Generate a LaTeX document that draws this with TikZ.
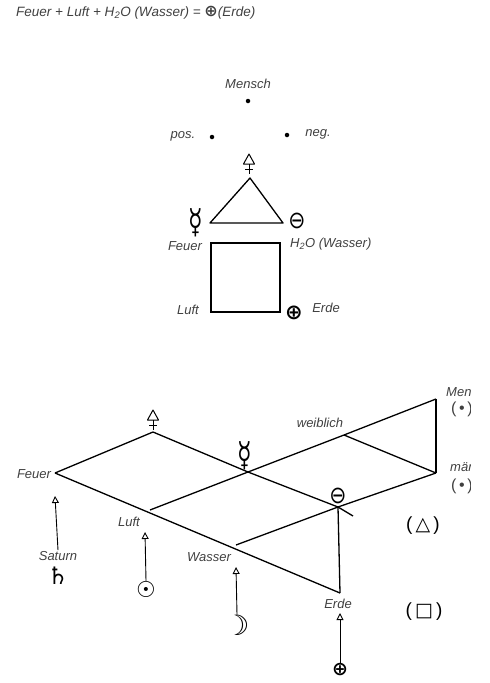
\documentclass[tikz,border=0pt]{standalone}
\usepackage{fontspec}
\setmainfont{Liberation Sans}
\newfontfamily\symfont{DejaVu Sans}
\usetikzlibrary{arrows.meta, positioning}

\tikzset{
  sulfur/.pic={
    \draw[line width=1pt, line join=round] (-5.5,-1) -- (5.5,-1) -- (0,-11) -- cycle;
    \draw[line width=1pt] (0,-1) -- (0,9) (-4,4) -- (4,4);
  }
}
\newcommand{\mercsym}{\scalebox{0.7}[1]{\fontsize{34}{36}\selectfont ☿}}
\newcommand{\saltsym}{\scalebox{0.85}[1]{\fontsize{24}{26}\selectfont ⊖}}

\begin{document}
\begin{tikzpicture}[x=1pt, y=-1pt,
    lbl/.style={font=\itshape\fontsize{13}{15}\selectfont, text=black!75, inner sep=1pt},
    sym/.style={font=\symfont, inner sep=0pt},
    dot/.style={circle, fill, inner sep=0pt, minimum size=4.5pt},
    ln/.style={line width=1.3pt},
    arr/.style={-{Triangle[open, length=7pt, width=7pt]}, line width=0.9pt}
]
\clip (0,0) rectangle (490,683);
\useasboundingbox (0,0) rectangle (490,683);

% formula
\node[lbl, anchor=west, font=\itshape\fontsize{13.5}{15}\selectfont] (formula) at (15,13) {Feuer + Luft + H\textsubscript{2}O (Wasser) = {\symfont\bfseries\fontsize{16}{16}\selectfont ⊕}(Erde)};

% upper figure: Mensch, triangle, square
\node[lbl] (mensch) at (248,84) {Mensch};
\node[dot] (mdot) at (248,101) {};
\node[dot] (pdot) at (212,137) {};
\node[dot] (ndot) at (287,135) {};
\node[lbl] (pos) at (183,136) {pos.};
\node[lbl] (neg) at (318,134) {neg.};
\pic at (249,165) {sulfur};

\coordinate (ta) at (250,178);
\coordinate (tl) at (210,223);
\coordinate (tr) at (283,223);
\draw[ln, line join=round] (ta) -- (tl) -- (tr) -- cycle;
\node[sym] (merc) at (196,223) {\mercsym};
\node[sym] (salt) at (297,221) {\saltsym};

\coordinate (sqa) at (211,243);
\coordinate (sqc) at (280,312);
\draw[ln] (sqa) rectangle (sqc);
\node[lbl] (feuer) at (185,246) {Feuer};
\node[lbl, anchor=west] (wasser) at (289,244) {H\textsubscript{2}O (Wasser)};
\node[lbl] (luft) at (188,310) {Luft};
\node[sym, font=\symfont\bfseries\fontsize{21}{23}\selectfont] (earth) at (294,313) {⊕};
\node[lbl] (erde) at (326,308) {Erde};

% lower figure
\coordinate (F) at (55,473);
\coordinate (S) at (153,432);
\coordinate (M) at (248,472);
\coordinate (W) at (344,435);
\coordinate (Me) at (436,399);
\coordinate (Ma) at (436,473);
\coordinate (Sa) at (338,507);
\coordinate (SaEnd) at (353,516);
\coordinate (E) at (340,593);
\coordinate (L) at (150,510);
\coordinate (Wa) at (236,545);

\draw[ln] (F) -- (S) -- (M) -- (Sa) -- (SaEnd);
\draw[ln] (F) -- (E);
\draw[ln] (L) -- (M) -- (W) -- (Me);
\draw[ln] (W) -- (Ma);
\draw[ln] (Me) -- (Ma);
\draw[ln] (Wa) -- (Sa) -- (Ma);
\draw[ln] (Sa) -- (E);

\pic at (153,421) {sulfur};
\node[sym] (merc2) at (245,456) {\mercsym};
\node[sym] (salt2) at (338,496) {\saltsym};

\node[lbl] (feuer2) at (34,474) {Feuer};
\node[lbl] (weib) at (320,423) {weiblich};
\begin{scope}
\clip (0,0) rectangle (470,683);
\node[lbl, anchor=west] (mensch2) at (445,392) {Mensch};
\node[lbl, anchor=west, font=\fontsize{16}{18}\selectfont] (mpar) at (450,409) {(\,•\,)};
\node[lbl, anchor=west] (mann) at (449,467) {männlich};
\node[lbl, anchor=west, font=\fontsize{16}{18}\selectfont] (mapar) at (450,486) {(\,•\,)};
\end{scope}
\node[lbl] (luft2) at (129,522) {Luft};
\node[lbl] (wasser2) at (209,557) {Wasser};
\node[lbl] (erde2) at (338,604) {Erde};
\node[lbl] (saturn) at (58,556) {Saturn};

\node[sym, font=\symfont\bfseries\fontsize{24}{26}\selectfont] (sat) at (58,576) {♄};
\node[sym, font=\symfont\fontsize{22}{24}\selectfont] (sun) at (146,589) {☉};
\node[sym, font=\symfont\bfseries\fontsize{28}{30}\selectfont] (moon) at (237,625) {☽};
\node[sym, font=\symfont\bfseries\fontsize{19}{21}\selectfont] (earth2) at (340,670) {⊕};

\node[font=\fontsize{19}{21}\selectfont] (tri) at (423,526) {(\,{\symfont △}\,)};
\node[font=\fontsize{19}{21}\selectfont] (sqr) at (424,612) {(\,{\symfont □}\,)};

\coordinate (satTip) at (55,496);
\coordinate (sunTip) at (145,532);
\coordinate (moonTip) at (236,567);
\coordinate (earthTip) at (340,613);
\draw[arr] (saturn.north) -- (satTip);
\draw[arr] (sun.north) -- (sunTip);
\draw[arr] (moon.north) -- (moonTip);
\draw[arr] (earth2.north) -- (earthTip);
\end{tikzpicture}
\end{document}
